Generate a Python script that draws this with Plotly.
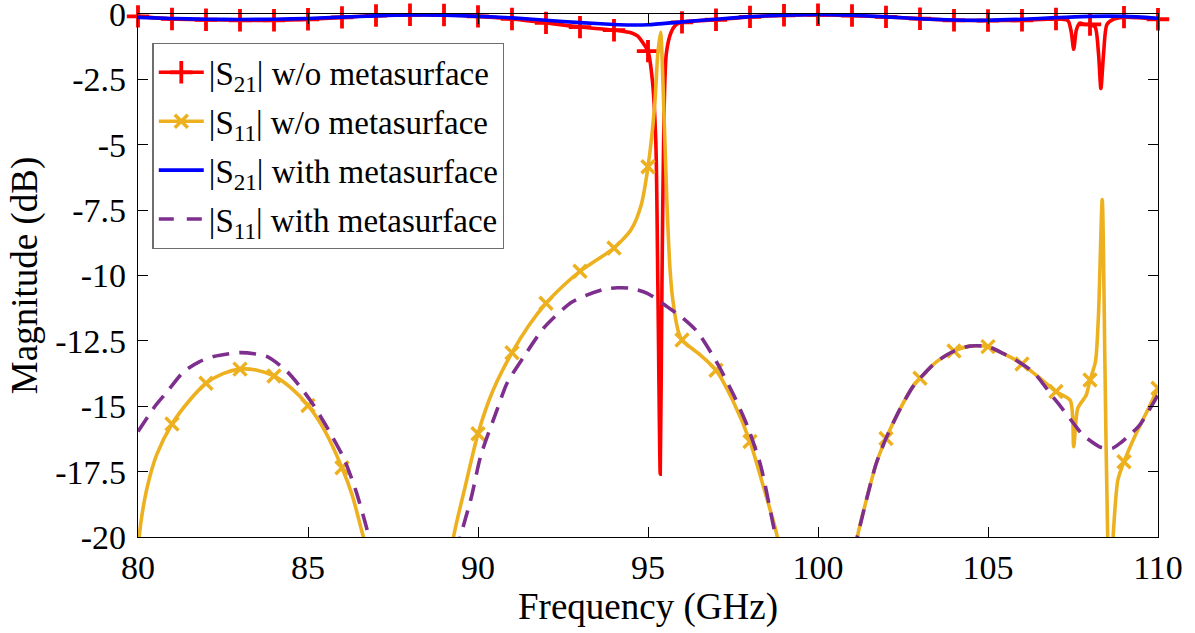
import plotly.graph_objects as go

# ---------------- data ----------------
# |S21| without metasurface
f_s21_wo = [80, 81, 82, 83, 84, 85, 86, 87, 88, 89, 90, 91, 92, 93, 94, 94.5, 94.7, 94.85,
            95, 95.13, 95.23, 95.29, 95.36, 95.41, 95.47, 95.54, 95.68, 95.82,
            96, 97, 98, 99, 100, 101, 102, 103, 104, 105, 106, 107,
            107.35, 107.45, 107.52, 107.6, 107.7, 107.85, 108, 108.15, 108.25, 108.32,
            108.4, 108.5, 108.7, 109, 110]
s21_wo = [-0.09, -0.19, -0.22, -0.24, -0.24, -0.2, -0.13, -0.06, -0.03, -0.04, -0.09, -0.19,
          -0.34, -0.5, -0.62, -0.72, -0.85, -1.1,
          -1.42, -2.56, -4.9, -10.4, -17.6, -10.4, -3.9, -1.5, -0.7, -0.42,
          -0.32, -0.22, -0.11, -0.05, -0.03, -0.06, -0.11, -0.18, -0.24, -0.25, -0.24, -0.19,
          -0.25, -0.7, -1.35, -0.6, -0.35, -0.4, -0.4, -0.5, -1.5, -2.85,
          -1.5, -0.4, -0.2, -0.12, -0.2]

# |S11| without metasurface
f_s11_wo = [80, 80.1, 80.27, 80.55, 81, 81.5, 82, 82.5, 83, 83.5, 84, 84.5, 85, 85.5, 86,
            86.3, 86.6, 86.9, 88, 89, 89.28, 89.6, 90, 90.44, 91, 91.5, 92, 92.5, 93, 93.5,
            94, 94.5, 94.8, 95, 95.19, 95.29, 95.37, 95.45, 95.55, 95.65, 95.73, 95.88,
            96, 96.5, 97, 97.5, 98, 98.4, 98.78, 99, 100, 101, 101.17, 101.42, 101.71,
            102, 102.4, 102.79, 103, 103.48, 104, 104.46, 105, 105.44, 106, 106.5, 107,
            107.42, 107.52, 107.64, 107.89, 108, 108.16, 108.25, 108.36, 108.44, 108.52,
            108.6, 108.68, 108.82, 109, 109.36, 109.65, 110]
s11_wo = [-20.4, -19.3, -18.1, -16.85, -15.68, -14.8, -14.12, -13.75, -13.58, -13.62, -13.84,
          -14.3, -14.97, -15.95, -17.35, -18.4, -19.86, -21.3, -30, -23, -20, -18.2, -16.05,
          -14.4, -12.95, -11.9, -11.06, -10.4, -9.84, -9.4, -8.95, -8.25, -7.3, -5.84, -3.6,
          -1.5, -0.7, -3.0, -7.0, -9.8, -10.94, -12.08, -12.47, -13.0, -13.62, -14.8,
          -16.35, -18.1, -19.86, -21.5, -30, -21.6, -19.92, -18.6, -17.2, -16.23, -15.14,
          -14.25, -13.93, -13.3, -12.89, -12.7, -12.72, -12.98, -13.38, -13.9, -14.44,
          -14.78, -16.55, -15.08, -14.57, -14.0, -13.3, -11.5, -7.1, -13.5, -20.0,
          -22.5, -20.0, -17.82, -17.12, -16.03, -15.27, -14.31]

# |S21| with metasurface
f_s21_w = [80, 81, 82, 83, 84, 85, 86, 87, 88, 89, 90, 91, 92, 93, 94, 94.5, 95, 96, 97, 98,
           99, 100, 101, 102, 103, 104, 105, 106, 107, 108, 109, 110]
s21_w = [-0.13, -0.17, -0.2, -0.21, -0.2, -0.17, -0.12, -0.07, -0.04, -0.05, -0.09, -0.15,
         -0.24, -0.33, -0.4, -0.42, -0.41, -0.3, -0.2, -0.1, -0.05, -0.02, -0.05, -0.11,
         -0.18, -0.23, -0.24, -0.2, -0.14, -0.09, -0.09, -0.16]

# |S11| with metasurface
f_s11_w = [80, 80.5, 80.86, 81.34, 81.8, 82.22, 83.02, 83.8, 84.39, 84.8, 85.16, 85.6, 86.05,
           86.4, 86.74, 87.0, 88.2, 89.2, 89.48, 89.8, 90.08, 90.57, 90.86, 91.35, 91.94,
           92.72, 93.2, 93.7, 94.1, 94.49, 94.98, 95.57, 96.0, 96.45, 97.04, 97.53, 97.93,
           98.32, 98.71, 99.0, 100, 100.9, 101.17, 101.42, 101.71, 102, 102.4, 102.79, 103,
           103.48, 104, 104.46, 105, 105.44, 106, 106.37, 106.9, 107.1, 107.59, 107.79,
           108.28, 108.48, 108.67, 108.9, 109.16, 109.46, 110]
s11_w = [-15.97, -15.0, -14.44, -13.68, -13.3, -13.1, -12.95, -13.1, -13.68, -14.3, -14.95,
         -15.9, -16.98, -18.2, -19.73, -21.2, -30, -21.5, -20.0, -18.5, -16.9, -15.1, -14.1,
         -13.1, -12.0, -11.05, -10.75, -10.53, -10.47, -10.49, -10.68, -11.2, -11.6, -12.15,
         -13.36, -14.6, -15.78, -17.3, -19.7, -21.3, -30, -21.3, -19.92, -18.6, -17.2, -16.23,
         -15.14, -14.25, -13.93, -13.3, -12.89, -12.7, -12.72, -12.98, -13.38, -13.74,
         -14.63, -14.95, -15.78, -16.1, -16.55, -16.61, -16.6, -16.4, -16.1, -15.72, -14.57]

x_ticks = [80, 85, 90, 95, 100, 105, 110]
y_ticks = [0, -2.5, -5, -7.5, -10, -12.5, -15, -17.5, -20]
y_tick_labels = ["0", "-2.5", "-5", "-7.5", "-10", "-12.5", "-15", "-17.5", "-20"]

names = ["|S<sub>21</sub>| w/o metasurface", "|S<sub>11</sub>| w/o metasurface",
         "|S<sub>21</sub>| with metasurface", "|S<sub>11</sub>| with metasurface"]

# ---------------- styles ----------------
RED = "#FF0000"
YEL = "#EDB120"
BLUE = "#0000FF"
PUR = "#7E2F8E"
LW = 3.6
FONT = "Liberation Serif, Times New Roman, serif"
SMOOTH = 0.7


def integer_subset(fs, vs):
    xs, ys = [], []
    for a, b in zip(fs, vs):
        if float(a).is_integer():
            xs.append(a)
            ys.append(b)
    return xs, ys


fig = go.Figure()

# curves (drawing order: S21 w/o, S11 w/o, S21 with, S11 with)
fig.add_trace(go.Scatter(x=f_s21_wo, y=s21_wo, mode="lines", showlegend=False,
                         cliponaxis=False,
                         line=dict(color=RED, width=LW, shape="spline", smoothing=SMOOTH)))
mx, my = integer_subset(f_s21_wo, s21_wo)
fig.add_trace(go.Scatter(x=mx, y=my, mode="markers", showlegend=False, cliponaxis=False,
                         marker=dict(symbol="cross-thin", size=16, color=RED,
                                     line=dict(color=RED, width=3.8))))
fig.add_trace(go.Scatter(x=f_s11_wo, y=s11_wo, mode="lines", showlegend=False,
                         line=dict(color=YEL, width=LW, shape="spline", smoothing=SMOOTH)))
mx, my = integer_subset(f_s11_wo, s11_wo)
fig.add_trace(go.Scatter(x=mx, y=my, mode="markers", showlegend=False,
                         marker=dict(symbol="x-thin", size=13, color=YEL,
                                     line=dict(color=YEL, width=3.5))))
fig.add_trace(go.Scatter(x=f_s21_w, y=s21_w, mode="lines", showlegend=False,
                         cliponaxis=False,
                         line=dict(color=BLUE, width=LW, shape="spline", smoothing=SMOOTH)))
fig.add_trace(go.Scatter(x=f_s11_w, y=s11_w, mode="lines", showlegend=False,
                         line=dict(color=PUR, width=LW, dash="17px,10px",
                                   shape="spline", smoothing=SMOOTH)))

# legend entries
fig.add_trace(go.Scatter(x=[None], y=[None], mode="lines+markers", name=names[0],
                         legendgroup="a",
                         line=dict(color=RED, width=LW),
                         marker=dict(symbol="cross-thin", size=16, color=RED,
                                     line=dict(color=RED, width=3.8))))
fig.add_trace(go.Scatter(x=[None], y=[None], mode="lines+markers", name=names[1],
                         legendgroup="b",
                         line=dict(color=YEL, width=LW),
                         marker=dict(symbol="x-thin", size=13, color=YEL,
                                     line=dict(color=YEL, width=3.5))))
fig.add_trace(go.Scatter(x=[None], y=[None], mode="lines", name=names[2],
                         legendgroup="c",
                         line=dict(color=BLUE, width=LW)))
fig.add_trace(go.Scatter(x=[None], y=[None], mode="lines", name=names[3],
                         legendgroup="d",
                         line=dict(color=PUR, width=LW, dash="15px,13px")))

axis_common = dict(showline=True, linecolor="black", linewidth=1.3, mirror="ticks",
                   ticks="inside", ticklen=10, tickwidth=1.3, tickcolor="black",
                   showgrid=False, zeroline=False, automargin=False,
                   ticklabeloverflow="allow",
                   tickfont=dict(family=FONT, size=34, color="black"))

fig.update_layout(
    width=1195, height=633,
    margin=dict(l=138, r=37, t=14, b=96),
    paper_bgcolor="white", plot_bgcolor="white",
    font=dict(family=FONT, color="black"),
    xaxis=dict(range=[80, 110], tickvals=x_ticks, ticklabelstandoff=0,
               title=dict(text="Frequency (GHz)", font=dict(family=FONT, size=37), standoff=0),
               **axis_common),
    yaxis=dict(range=[-20, 0], tickvals=y_ticks, ticktext=y_tick_labels, ticklabelstandoff=4,
               title=dict(text="Magnitude (dB)", font=dict(family=FONT, size=37), standoff=6),
               **axis_common),
    legend=dict(x=0.0142, y=0.9445, xanchor="left", yanchor="top",
                bgcolor="white", bordercolor="#6e6e6e", borderwidth=1.3,
                font=dict(family=FONT, size=33, color="black"),
                itemwidth=45, tracegroupgap=3),
    showlegend=True,
)

fig.write_html("out.html", config={"displayModeBar": False},
               post_script="document.body.style.margin='0';")
